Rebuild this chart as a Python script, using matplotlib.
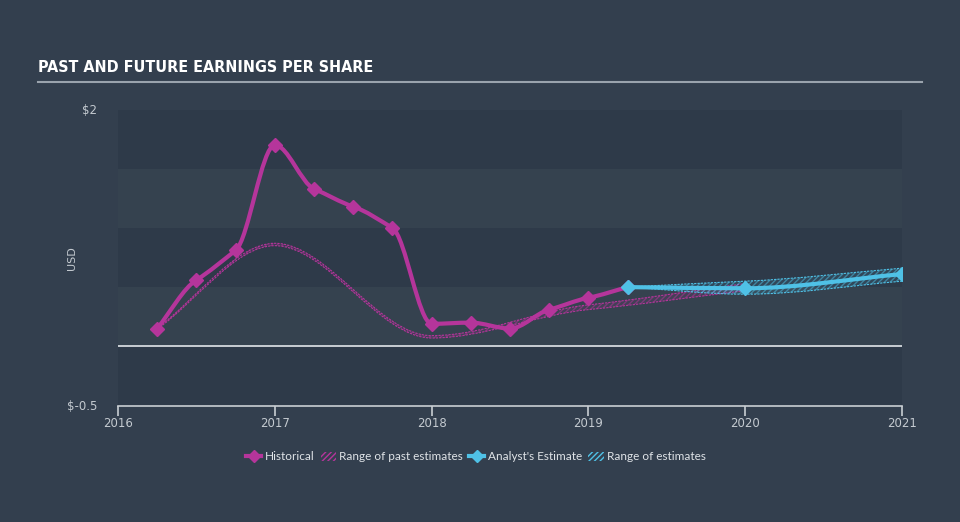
import matplotlib
matplotlib.use("Agg")
import matplotlib.pyplot as plt
import numpy as np
from matplotlib.path import Path
from matplotlib.patches import PathPatch, Patch
from matplotlib.lines import Line2D

# --- data ------------------------------------------------------------------
hist_x = [2016.25, 2016.5, 2016.75, 2017.0, 2017.25, 2017.5, 2017.75,
          2018.0, 2018.25, 2018.5, 2018.75, 2019.0, 2019.25]
hist_y = [0.15, 0.56, 0.81, 1.70, 1.33, 1.18, 1.00,
          0.19, 0.20, 0.15, 0.31, 0.41, 0.50]

past_x = [2016.25, 2017.0, 2018.0, 2019.0, 2020.0]
past_lo = [0.145, 0.85, 0.07, 0.31, 0.47]
past_hi = [0.155, 0.87, 0.09, 0.35, 0.53]

est_x = [2019.25, 2020.0, 2021.0]
est_y = [0.50, 0.49, 0.61]
est_lo = [0.50, 0.44, 0.55]
est_hi = [0.50, 0.55, 0.66]

years = [2016, 2017, 2018, 2019, 2020, 2021]

BG = "#333f4e"
BAND_DARK = "#2e3a49"
BAND_LIGHT = "#35424f"
HIST = "#b5359b"
EST = "#4fc1e6"
TXT = "#c4cad0"


def bezier(xs, ys):
    """Monotone cubic (Fritsch-Carlson) through the points, as Bezier vertices."""
    x = np.asarray(xs, float)
    y = np.asarray(ys, float)
    n = len(x)
    h = np.diff(x)
    d = np.diff(y) / h
    m = np.zeros(n)
    m[0], m[-1] = d[0], d[-1]
    for i in range(1, n - 1):
        if d[i - 1] * d[i] > 0:
            m[i] = (h[i - 1] + h[i]) * 2 / (
                (2 * h[i] + h[i - 1]) / d[i - 1] + (h[i] + 2 * h[i - 1]) / d[i])
    verts, codes = [(x[0], y[0])], [Path.MOVETO]
    for i in range(n - 1):
        verts += [(x[i] + h[i] / 3, y[i] + m[i] * h[i] / 3),
                  (x[i + 1] - h[i] / 3, y[i + 1] - m[i + 1] * h[i] / 3),
                  (x[i + 1], y[i + 1])]
        codes += [Path.CURVE4] * 3
    return verts, codes


def band(ax, xs, lo, hi, color):
    uv, uc = bezier(xs, hi)
    lv, lc = bezier(xs, lo)
    verts = uv + lv[::-1] + [uv[0]]
    codes = uc + [Path.LINETO] + [Path.CURVE4] * (len(lv) - 1) + [Path.CLOSEPOLY]
    ax.add_patch(PathPatch(Path(verts, codes), facecolor=color, alpha=0.10,
                           lw=0, zorder=2))
    ax.add_patch(PathPatch(Path(verts, codes), facecolor="none", edgecolor=color,
                           hatch="//////", lw=0, alpha=0.5, zorder=2))
    for ys in (lo, hi):
        v, c = bezier(xs, ys)
        ax.add_patch(PathPatch(Path(v, c), fill=False, edgecolor=color, lw=0.8,
                               ls=(0, (2, 1)), zorder=2))


def curve(ax, xs, ys, color, lw=3.0, z=4):
    v, c = bezier(xs, ys)
    ax.add_patch(PathPatch(Path(v, c), fill=False, edgecolor=color, lw=lw,
                           capstyle="round", joinstyle="round", zorder=z))
    ax.plot(xs, ys, "D", color=color, ms=7, ls="none", zorder=z + 1)


fig = plt.figure(figsize=(9.6, 5.22), dpi=100, facecolor=BG)
ax = fig.add_axes([118 / 960, 116.5 / 522, 784 / 960, 296 / 522])
ax.set_facecolor(BG)
ax.set_xlim(2016, 2021)
ax.set_ylim(-0.5, 2.0)

for i, y0 in enumerate(np.arange(-0.5, 2.0, 0.5)):
    ax.axhspan(y0, y0 + 0.5, color=BAND_DARK if i % 2 == 0 else BAND_LIGHT,
               lw=0, zorder=0)
ax.axhline(0, color="#c9ced3", lw=1.4, zorder=1)

band(ax, past_x, past_lo, past_hi, HIST)
band(ax, est_x, est_lo, est_hi, EST)
curve(ax, hist_x, hist_y, HIST)
curve(ax, est_x, est_y, EST, z=6)

for s in ("top", "right", "left"):
    ax.spines[s].set_visible(False)
ax.spines["bottom"].set_color("#c9ced3")
ax.spines["bottom"].set_linewidth(1.2)
ax.set_xticks(years)
ax.set_xticklabels([str(y) for y in years])
ax.tick_params(axis="x", colors="#c9ced3", labelcolor=TXT, labelsize=8.5,
               length=7, width=1.2, pad=1)
ax.set_yticks([-0.5, 2.0])
ax.set_yticklabels([r"\$-0.5", r"\$2"])
ax.tick_params(axis="y", length=0, labelcolor=TXT, labelsize=8.5, pad=15)

fig.text(72 / 960, 1 - 258 / 522, "USD", rotation=90, color=TXT, fontsize=8,
         ha="center", va="center")

fig.text(38 / 960, 1 - 68 / 522, "PAST AND FUTURE EARNINGS PER SHARE",
         color="white", fontsize=11.5, fontweight="bold", fontstretch="condensed",
         va="center", family=["Liberation Sans Narrow", "DejaVu Sans"])
fig.add_artist(Line2D([38 / 960, 922 / 960], [1 - 82 / 522] * 2,
                      color="#9aa3ad", lw=1.5, transform=fig.transFigure))

handles = [
    Line2D([], [], color=HIST, marker="D", ms=6, lw=3),
    Patch(facecolor="none", edgecolor=HIST, hatch="//////", lw=0),
    Line2D([], [], color=EST, marker="D", ms=6, lw=3),
    Patch(facecolor="none", edgecolor=EST, hatch="//////", lw=0),
]
labels = ["Historical", "Range of past estimates", "Analyst's Estimate",
          "Range of estimates"]
leg = fig.legend(handles, labels, loc="center",
                 bbox_to_anchor=(476 / 960, 1 - 457 / 522),
                 ncol=4, frameon=False, handlelength=1.3,
                 handletextpad=0.3, columnspacing=0.5,
                 prop={"family": ["Lato", "DejaVu Sans"], "size": 8.5})
for t in leg.get_texts():
    t.set_color("#dfe3e7")

fig.savefig("out.png", dpi=100, facecolor=BG)
